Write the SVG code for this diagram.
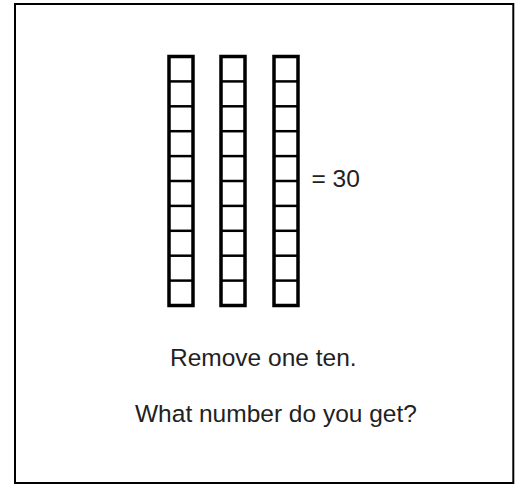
<svg xmlns="http://www.w3.org/2000/svg" width="519" height="485" viewBox="0 0 519 485">
  <style>
    .frame { fill: #fff; stroke: #000; stroke-width: 2; }
    .rod { fill: #fff; stroke: #000; stroke-width: 3.5; }
    .div { stroke: #000; stroke-width: 2.5; }
    .txt { font-family: "Liberation Sans", Arial, sans-serif; font-size: 24.5px; fill: #222; }
  </style>
  <defs>
    <g id="rod">
      <rect class="rod" x="0" y="0" width="24" height="249"/>
      <g class="div">
        <line x1="0" y1="24.9" x2="24" y2="24.9"/>
        <line x1="0" y1="49.8" x2="24" y2="49.8"/>
        <line x1="0" y1="74.7" x2="24" y2="74.7"/>
        <line x1="0" y1="99.6" x2="24" y2="99.6"/>
        <line x1="0" y1="124.5" x2="24" y2="124.5"/>
        <line x1="0" y1="149.4" x2="24" y2="149.4"/>
        <line x1="0" y1="174.3" x2="24" y2="174.3"/>
        <line x1="0" y1="199.2" x2="24" y2="199.2"/>
        <line x1="0" y1="224.1" x2="24" y2="224.1"/>
      </g>
    </g>
  </defs>
  <rect width="519" height="485" fill="#fff"/>
  <rect class="frame" x="15" y="4" width="498.3" height="479"/>
  <g id="rod1"><use href="#rod" x="169" y="56.5"/></g>
  <g id="rod2"><use href="#rod" x="221" y="56.5"/></g>
  <g id="rod3"><use href="#rod" x="274" y="56.5"/></g>
  <g id="label-30"><text class="txt" x="311.5" y="187">= 30</text></g>
  <g id="line1"><text class="txt" x="170" y="366">Remove one ten.</text></g>
  <g id="line2"><text class="txt" x="135" y="422">What number do you get?</text></g>
</svg>
